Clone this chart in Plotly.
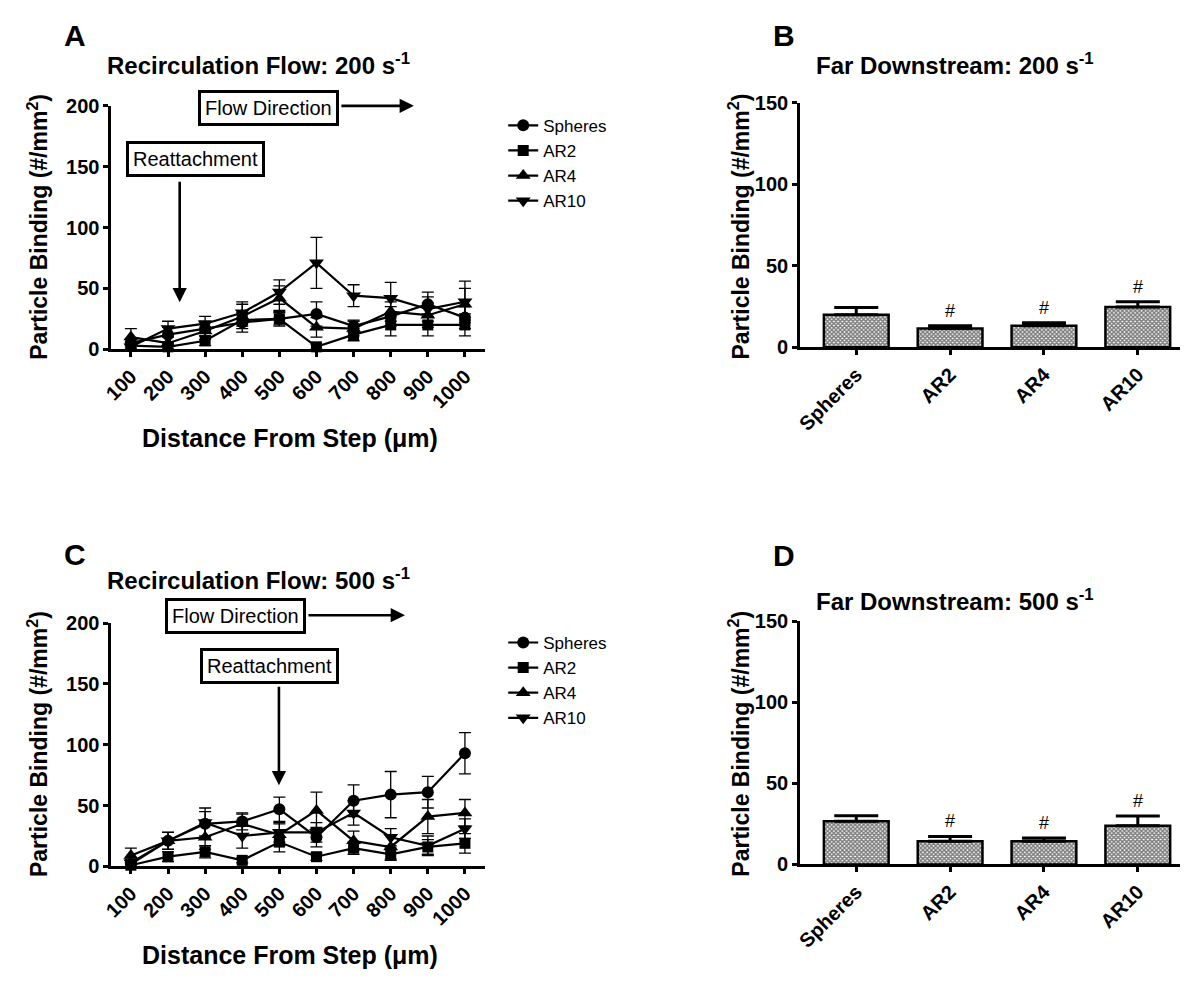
import plotly.graph_objects as go

# ---------------- data ----------------
distances = ["100", "200", "300", "400", "500", "600", "700", "800", "900", "1000"]
series_names = ["Spheres", "AR2", "AR4", "AR10"]

# Panel A: recirculation flow, 200 s^-1
a_spheres = [5, 12, 17, 22, 25, 29, 19, 27, 37, 26]
a_spheres_err = [4, 6, 6, 8, 6, 10, 5, 8, 10, 9]
a_ar2 = [3, 2, 7, 24, 25, 2, 12, 20, 20, 20]
a_ar2_err = [3, 3, 4, 5, 5, 2, 5, 9, 9, 9]
a_ar4 = [10, 5, 15, 27, 42, 18, 17, 31, 28, 37]
a_ar4_err = [7, 5, 7, 10, 10, 8, 6, 8, 10, 13]
a_ar10 = [2, 17, 21, 30, 47, 71, 44, 42, 33, 39]
a_ar10_err = [4, 6, 6, 9, 10, 21, 9, 13, 10, 17]

# Panel C: recirculation flow, 500 s^-1
c_spheres = [2, 21, 35, 37, 47, 24, 54, 59, 61, 93]
c_spheres_err = [3, 7, 10, 7, 10, 8, 13, 19, 13, 17]
c_ar2 = [1, 8, 12, 5, 20, 8, 15, 10, 16, 19]
c_ar2_err = [2, 4, 5, 2, 8, 3, 5, 5, 6, 8]
c_ar4 = [9, 21, 24, 35, 26, 46, 21, 16, 41, 44]
c_ar4_err = [6, 7, 10, 8, 9, 15, 8, 10, 14, 11]
c_ar10 = [3, 21, 36, 25, 28, 28, 44, 24, 17, 31]
c_ar10_err = [3, 7, 12, 10, 8, 8, 10, 7, 8, 8]

# Panels B, D: far downstream
particles = ["Spheres", "AR2", "AR4", "AR10"]
b_values = [20, 11.5, 13.3, 24.7]
b_err = [4.4, 1.8, 1.8, 3.3]
d_values = [26.7, 14.3, 14.3, 23.9]
d_err = [3.3, 3.0, 2.0, 6.0]
b_sig = ["", "#", "#", "#"]
d_sig = ["", "#", "#", "#"]
a_sig_point = ("600", 71 + 21)

W, H = 1184, 984
FONT = "Liberation Sans, Arial, sans-serif"


def px(x):
    return x / W


def py(y):
    return 1 - y / H


symbols = ["circle", "square", "triangle-up", "triangle-down"]
sizes = [12, 11, 13, 13]

fig = go.Figure()

a_data = [(a_spheres, a_spheres_err), (a_ar2, a_ar2_err), (a_ar4, a_ar4_err), (a_ar10, a_ar10_err)]
c_data = [(c_spheres, c_spheres_err), (c_ar2, c_ar2_err), (c_ar4, c_ar4_err), (c_ar10, c_ar10_err)]

for (vals, errs), name, sym, sz in zip(a_data, series_names, symbols, sizes):
    fig.add_trace(go.Scatter(
        x=distances, y=vals, name=name, mode="lines+markers",
        line=dict(color="black", width=2.2),
        marker=dict(symbol=sym, size=sz, color="black"),
        error_y=dict(type="data", array=errs, color="black", thickness=1.3, width=6),
        xaxis="x", yaxis="y", legend="legend", cliponaxis=False,
    ))

for (vals, errs), name, sym, sz in zip(c_data, series_names, symbols, sizes):
    fig.add_trace(go.Scatter(
        x=distances, y=vals, name=name, mode="lines+markers",
        line=dict(color="black", width=2.2),
        marker=dict(symbol=sym, size=sz, color="black"),
        error_y=dict(type="data", array=errs, color="black", thickness=1.3, width=6),
        xaxis="x3", yaxis="y3", legend="legend2", cliponaxis=False,
    ))

bar_marker = dict(
    color="white",
    line=dict(color="black", width=2.5),
    pattern=dict(shape="x", fgcolor="black", bgcolor="white", size=3, solidity=0.75),
)

fig.add_trace(go.Bar(
    x=particles, y=b_values, width=0.69, marker=bar_marker, showlegend=False,
    error_y=dict(type="data", symmetric=False, array=b_err, arrayminus=[0] * 4,
                 color="black", thickness=3, width=22),
    xaxis="x2", yaxis="y2",
))
fig.add_trace(go.Bar(
    x=particles, y=d_values, width=0.69, marker=bar_marker, showlegend=False,
    error_y=dict(type="data", symmetric=False, array=d_err, arrayminus=[0] * 4,
                 color="black", thickness=3, width=22),
    xaxis="x4", yaxis="y4",
))

axis_common = dict(
    showline=True, linecolor="black", linewidth=2.5,
    ticks="outside", ticklen=5, tickwidth=2.5, tickcolor="black",
    showgrid=False, zeroline=False,
    tickfont=dict(family=FONT, size=20, color="black", weight="bold"),
)

xl, xr = px(103), px(480)
bl, br = px(797), px(1180)

fig.update_layout(
    width=W, height=H,
    margin=dict(l=0, r=0, t=0, b=0),
    paper_bgcolor="white", plot_bgcolor="white",
    font=dict(family=FONT, color="black"),
    xaxis=dict(domain=[xl, xr], anchor="y", type="category", categoryarray=distances,
               range=[-0.53, 9.55], tickangle=-45, **axis_common),
    yaxis=dict(domain=[py(346), py(97)], anchor="x", range=[0, 200],
               tickvals=[0, 50, 100, 150, 200], **axis_common),
    xaxis2=dict(domain=[bl, br], anchor="y2", type="category", categoryarray=particles,
                range=[-0.6, 3.45], tickangle=-45, **axis_common),
    yaxis2=dict(domain=[py(344), py(94)], anchor="x2", range=[0, 150],
                tickvals=[0, 50, 100, 150], **axis_common),
    xaxis3=dict(domain=[xl, xr], anchor="y3", type="category", categoryarray=distances,
                range=[-0.53, 9.55], tickangle=-45, **axis_common),
    yaxis3=dict(domain=[py(875), py(626)], anchor="x3", range=[0, 200],
                tickvals=[0, 50, 100, 150, 200], **axis_common),
    xaxis4=dict(domain=[bl, br], anchor="y4", type="category", categoryarray=particles,
                range=[-0.6, 3.45], tickangle=-45, **axis_common),
    yaxis4=dict(domain=[py(873), py(624)], anchor="x4", range=[0, 150],
                tickvals=[0, 50, 100, 150], **axis_common),
    legend=dict(x=px(498), y=py(99), xanchor="left", yanchor="top",
                font=dict(family=FONT, size=17, color="black"),
                bgcolor="rgba(0,0,0,0)", tracegroupgap=0, itemwidth=30),
    legend2=dict(x=px(498), y=py(628), xanchor="left", yanchor="top",
                 font=dict(family=FONT, size=17, color="black"),
                 bgcolor="rgba(0,0,0,0)", tracegroupgap=0, itemwidth=30),
    bargap=0.3,
)

ann = []


def text_ann(x, y, text, size, bold=True, xanchor="center", angle=0):
    ann.append(dict(
        x=px(x), y=py(y), xref="paper", yref="paper", text=text, showarrow=False,
        xanchor=xanchor, yanchor="middle", textangle=angle,
        font=dict(family=FONT, size=size, color="black", weight="bold" if bold else "normal"),
    ))


# panel letters
text_ann(53, 25, "A", 30, xanchor="left")
text_ann(768, 25, "B", 30, xanchor="left")
text_ann(53, 556, "C", 30, xanchor="left")
text_ann(768, 557, "D", 30, xanchor="left")

# titles
text_ann(97, 54, "Recirculation Flow: 200 s<sup>-1</sup>", 24, xanchor="left")
text_ann(811, 54, "Far Downstream: 200 s<sup>-1</sup>", 24, xanchor="left")
text_ann(97, 581, "Recirculation Flow: 500 s<sup>-1</sup>", 24, xanchor="left")
text_ann(811, 602, "Far Downstream: 500 s<sup>-1</sup>", 24, xanchor="left")

# axis titles
ytitle = "Particle Binding (#/mm<sup>2</sup>)"
text_ann(29, 221, ytitle, 23, angle=-90)
text_ann(736, 220, ytitle, 23, angle=-90)
text_ann(29, 750, ytitle, 23, angle=-90)
text_ann(736, 749, ytitle, 23, angle=-90)
text_ann(283, 437, "Distance From Step (μm)", 25)
text_ann(283, 966, "Distance From Step (μm)", 25)


def box_ann(x, y, text):
    ann.append(dict(
        x=px(x), y=py(y), xref="paper", yref="paper", text=text, showarrow=False,
        xanchor="center", yanchor="middle",
        font=dict(family=FONT, size=20, color="black"),
        bordercolor="black", borderwidth=3, borderpad=4, bgcolor="white",
    ))


def arrow_ann(x0, y0, x1, y1):
    ann.append(dict(
        x=px(x1), y=py(y1), xref="paper", yref="paper",
        ax=x0 - x1, ay=y0 - y1, axref="pixel", ayref="pixel",
        text="", showarrow=True, arrowhead=2, arrowsize=1.1, arrowwidth=2.6,
        arrowcolor="black", standoff=0, startstandoff=0,
    ))


box_ann(261.5, 99.5, "Flow Direction")
arrow_ann(334, 97, 408, 97)
box_ann(187.5, 151.5, "Reattachment")
arrow_ann(172, 176, 172, 298)

box_ann(228, 619, "Flow Direction")
arrow_ann(301, 618, 399, 618)
box_ann(262.5, 670, "Reattachment")
arrow_ann(272, 692, 272, 792)

# significance markers
for xref, yref, cats, vals, errs, sig in [
    ("x2", "y2", particles, b_values, b_err, b_sig),
    ("x4", "y4", particles, d_values, d_err, d_sig),
]:
    for c, v, e, s in zip(cats, vals, errs, sig):
        if s:
            ann.append(dict(x=c, y=v + e, xref=xref, yref=yref, text=s, showarrow=False,
                            yanchor="bottom", yshift=3,
                            font=dict(family=FONT, size=18, color="black")))
ann.append(dict(x=a_sig_point[0], y=a_sig_point[1], xref="x", yref="y", text="#",
                showarrow=False, yanchor="bottom", yshift=3,
                font=dict(family=FONT, size=18, color="black")))

fig.update_layout(annotations=ann)

fig.write_html(
    "out.html",
    config={"displayModeBar": False},
    post_script="document.body.style.margin='0';document.body.style.overflow='hidden';",
)
